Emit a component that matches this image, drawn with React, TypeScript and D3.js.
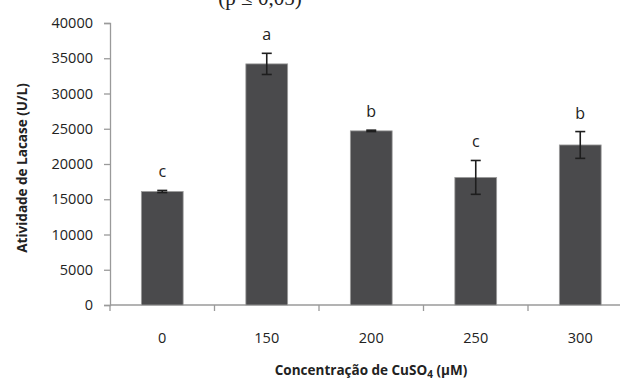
import { useEffect, useRef } from 'react'
import * as d3 from 'd3'

// Lacase activity by CuSO4 concentration
const CATEGORIES = ['0', '150', '200', '250', '300']
const MEANS = [16100, 34200, 24700, 18100, 22700]
const ERRORS = [150, 1500, 100, 2400, 1900]
const LETTERS = ['c', 'a', 'b', 'c', 'b']
const Y_TICKS = [0, 5000, 10000, 15000, 20000, 25000, 30000, 35000, 40000]

const WIDTH = 620
const HEIGHT = 380
const PLOT = { left: 110, right: 632.5, top: 23, bottom: 305 }

export default function App() {
  const svgRef = useRef<SVGSVGElement | null>(null)

  useEffect(() => {
    if (!svgRef.current) return
    const svg = d3.select(svgRef.current)
    svg.selectAll('*').remove()

    const font = '"Open Sans", "Liberation Sans", sans-serif'

    // ── Scales ─────────────────────────────────────────────────────────────
    const x = d3.scaleBand<string>()
      .domain(CATEGORIES)
      .range([PLOT.left, PLOT.right])
      .paddingInner(0.6)
      .paddingOuter(0.3)

    const y = d3.scaleLinear().domain([0, 40000]).range([PLOT.bottom, PLOT.top])

    // ── caption cut off at the very top (as in the source) ─────────────────
    svg.append('text')
      .attr('x', 260).attr('y', 5)
      .attr('text-anchor', 'middle')
      .attr('font-family', '"Liberation Serif", serif')
      .attr('font-size', 21)
      .attr('fill', '#222')
      .text('(p ≤ 0,05)')

    // ── Y axis ─────────────────────────────────────────────────────────────
    const yAxis = svg.append('g').attr('transform', `translate(${PLOT.left},0)`)
      .call(d3.axisLeft(y).tickValues(Y_TICKS).tickSize(6).tickPadding(11).tickFormat((d) => String(d)))
    yAxis.select('.domain').attr('stroke', '#9a9a9a').attr('stroke-width', 1.3)
    yAxis.selectAll('line').attr('stroke', '#9a9a9a').attr('stroke-width', 1.3)
    yAxis.selectAll('text')
      .attr('font-family', font).attr('font-size', 14.5).attr('fill', '#222')

    // ── X axis ─────────────────────────────────────────────────────────────
    const gx = svg.append('g')
    gx.append('line')
      .attr('x1', PLOT.left).attr('x2', WIDTH)
      .attr('y1', PLOT.bottom).attr('y2', PLOT.bottom)
      .attr('stroke', '#9a9a9a').attr('stroke-width', 1.3)
    const step = x.step()
    const pad = (step - x.bandwidth()) / 2
    CATEGORIES.forEach((c) => {
      const bx = (x(c) ?? 0) - pad
      gx.append('line')
        .attr('x1', bx).attr('x2', bx)
        .attr('y1', PLOT.bottom).attr('y2', PLOT.bottom + 6)
        .attr('stroke', '#9a9a9a').attr('stroke-width', 1.3)
      gx.append('text')
        .attr('x', (x(c) ?? 0) + x.bandwidth() / 2)
        .attr('y', PLOT.bottom + 38)
        .attr('text-anchor', 'middle')
        .attr('font-family', font).attr('font-size', 14.5).attr('fill', '#222')
        .text(c)
    })

    // ── Bars ───────────────────────────────────────────────────────────────
    svg.append('g').selectAll('rect')
      .data(MEANS)
      .join('rect')
      .attr('x', (_, i) => x(CATEGORIES[i]) ?? 0)
      .attr('y', (d) => y(d))
      .attr('width', x.bandwidth())
      .attr('height', (d) => y(0) - y(d))
      .attr('fill', '#4a4a4c')
      .attr('stroke', '#9c9c9c')
      .attr('stroke-width', 0.8)

    // ── Error bars ─────────────────────────────────────────────────────────
    const eg = svg.append('g').attr('stroke', '#1e1e1e').attr('stroke-width', 1.6)
    MEANS.forEach((m, i) => {
      const cx = (x(CATEGORIES[i]) ?? 0) + x.bandwidth() / 2
      const top = y(m + ERRORS[i])
      const bot = y(m - ERRORS[i])
      eg.append('line').attr('x1', cx).attr('x2', cx).attr('y1', top).attr('y2', bot)
      eg.append('line').attr('x1', cx - 5).attr('x2', cx + 5).attr('y1', top).attr('y2', top)
      eg.append('line').attr('x1', cx - 5).attr('x2', cx + 5).attr('y1', bot).attr('y2', bot)
    })

    // ── Significance letters ───────────────────────────────────────────────
    svg.append('g').selectAll('text')
      .data(LETTERS)
      .join('text')
      .attr('x', (_, i) => (x(CATEGORIES[i]) ?? 0) + x.bandwidth() / 2)
      .attr('y', (_, i) => y(MEANS[i] + ERRORS[i]) - 13)
      .attr('text-anchor', 'middle')
      .attr('font-family', font).attr('font-size', 16).attr('fill', '#222')
      .text((d) => d)

    // ── Axis titles ────────────────────────────────────────────────────────
    svg.append('text')
      .attr('transform', `translate(27,${(PLOT.top + PLOT.bottom) / 2 + 4}) rotate(-90)`)
      .attr('text-anchor', 'middle')
      .attr('font-family', font).attr('font-size', 13.5).attr('font-weight', 700).attr('fill', '#222')
      .text('Atividade de Lacase (U/L)')

    const xt = svg.append('text')
      .attr('x', 371).attr('y', 375)
      .attr('text-anchor', 'middle')
      .attr('font-family', font).attr('font-size', 13.5).attr('font-weight', 700).attr('fill', '#222')
    xt.append('tspan').text('Concentração de CuSO')
    xt.append('tspan').attr('font-size', 10).attr('dy', 3).text('4')
    xt.append('tspan').attr('dy', -3).text(' (μM)')
  }, [])

  return (
    <div style={{ position: 'fixed', left: 0, top: 0, background: '#fff' }}>
      <svg ref={svgRef} width={WIDTH} height={HEIGHT} style={{ display: 'block' }} />
    </div>
  )
}
